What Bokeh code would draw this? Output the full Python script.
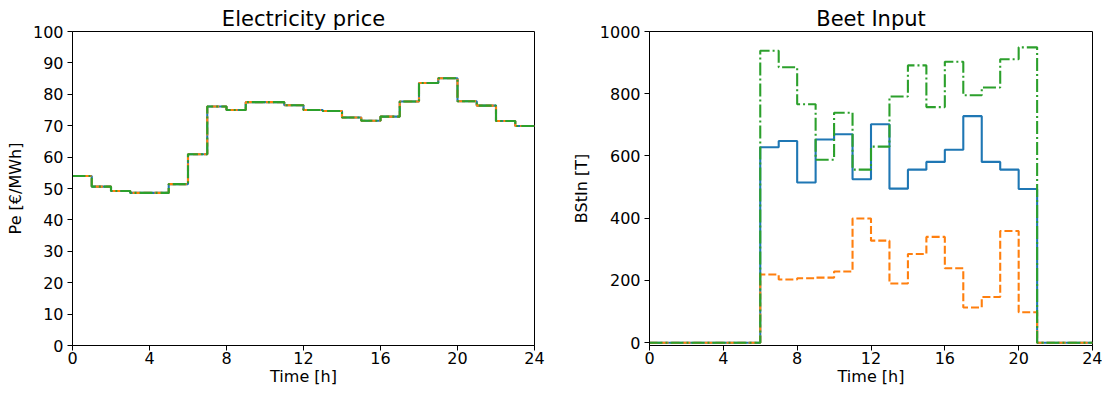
from bokeh.plotting import figure
from bokeh.layouts import row
from bokeh.models import Range1d, FixedTicker
from bokeh.embed import file_html
from bokeh.resources import INLINE

# ---------------- data ----------------
hours = list(range(24))
x_ticks = [0, 4, 8, 12, 16, 20, 24]

# Electricity price [€/MWh], identical for all three scenarios
price_blue = [54.0, 50.6, 49.2, 48.6, 48.6, 51.4, 60.9, 76.1, 75.0, 77.5, 77.5, 76.5,
              75.0, 74.7, 72.6, 71.6, 72.9, 77.7, 83.6, 85.1, 77.8, 76.4, 71.5, 69.9]
price_orange = list(price_blue)
price_green = list(price_blue)

# Beet input [T]
beet_blue = [0, 0, 0, 0, 0, 0, 628, 648, 515, 653, 670, 525,
             702, 495, 556, 581, 620, 728, 581, 556, 494, 0, 0, 0]
beet_orange = [0, 0, 0, 0, 0, 0, 219, 203, 207, 209, 229, 399,
               328, 190, 285, 340, 239, 113, 147, 359, 98, 0, 0, 0]
beet_green = [0, 0, 0, 0, 0, 0, 938, 885, 766, 588, 739, 556,
              630, 791, 891, 757, 903, 795, 820, 911, 949, 0, 0, 0]

price_ticks = list(range(0, 101, 10))
beet_ticks = list(range(0, 1001, 200))

BLUE, ORANGE, GREEN = "#1f77b4", "#ff7f0e", "#2ca02c"
FONT = "DejaVu Sans"


def step_xy(vals):
    return hours + [24], list(vals) + [vals[-1]]


def style(p, ylabel, yticks):
    p.title.text_font = FONT
    p.title.text_font_size = "21px"
    p.title.text_font_style = "normal"
    p.title.align = "center"
    p.title.text_color = "black"
    p.title.standoff = 2
    p.xgrid.visible = False
    p.ygrid.visible = False
    p.outline_line_color = "black"
    p.outline_line_alpha = 1
    p.outline_line_width = 1
    p.xaxis.ticker = FixedTicker(ticks=x_ticks)
    p.yaxis.ticker = FixedTicker(ticks=yticks)
    p.xaxis.axis_label = "Time [h]"
    p.yaxis.axis_label = ylabel
    for ax in (p.xaxis[0], p.yaxis[0]):
        ax.axis_line_color = "black"
        ax.major_tick_line_color = "black"
        ax.major_tick_out = 5
        ax.major_tick_in = 0
        ax.minor_tick_line_color = None
        ax.major_label_text_font = FONT
        ax.major_label_text_font_size = "16px"
        ax.major_label_text_color = "black"
        ax.axis_label_text_font = FONT
        ax.axis_label_text_font_size = "16px"
        ax.axis_label_text_font_style = "normal"
        ax.axis_label_text_color = "black"
    p.xaxis.major_label_standoff = 1
    p.xaxis.axis_label_standoff = 0
    p.yaxis.major_label_standoff = 4
    p.yaxis.axis_label_standoff = 5


def draw(p, blue, orange, green):
    x, y = step_xy(blue)
    p.step(x, y, mode="after", line_color=BLUE, line_width=2.1)
    x, y = step_xy(orange)
    p.step(x, y, mode="after", line_color=ORANGE, line_width=2.1, line_dash="8 3")
    x, y = step_xy(green)
    p.step(x, y, mode="after", line_color=GREEN, line_width=2.1, line_dash="13 3 2 3")


p1 = figure(width=568, height=389, title="Electricity price",
            x_range=Range1d(0, 24), y_range=Range1d(0, 100),
            output_backend="svg", toolbar_location=None,
            min_border_left=72, min_border_right=34,
            min_border_top=31, min_border_bottom=44)
style(p1, "Pe [€/MWh]", price_ticks)
draw(p1, price_blue, price_orange, price_green)

p2 = figure(width=534, height=389, title="Beet Input",
            x_range=Range1d(0, 24), y_range=Range1d(-9, 1000),
            output_backend="svg", toolbar_location=None,
            min_border_left=79, min_border_right=10,
            min_border_top=31, min_border_bottom=44)
style(p2, "BStIn [T]", beet_ticks)
p2.yaxis.axis_label_standoff = 6
draw(p2, beet_blue, beet_orange, beet_green)

layout = row(p1, p2)

open("out.html", "w").write(file_html(layout, INLINE))
